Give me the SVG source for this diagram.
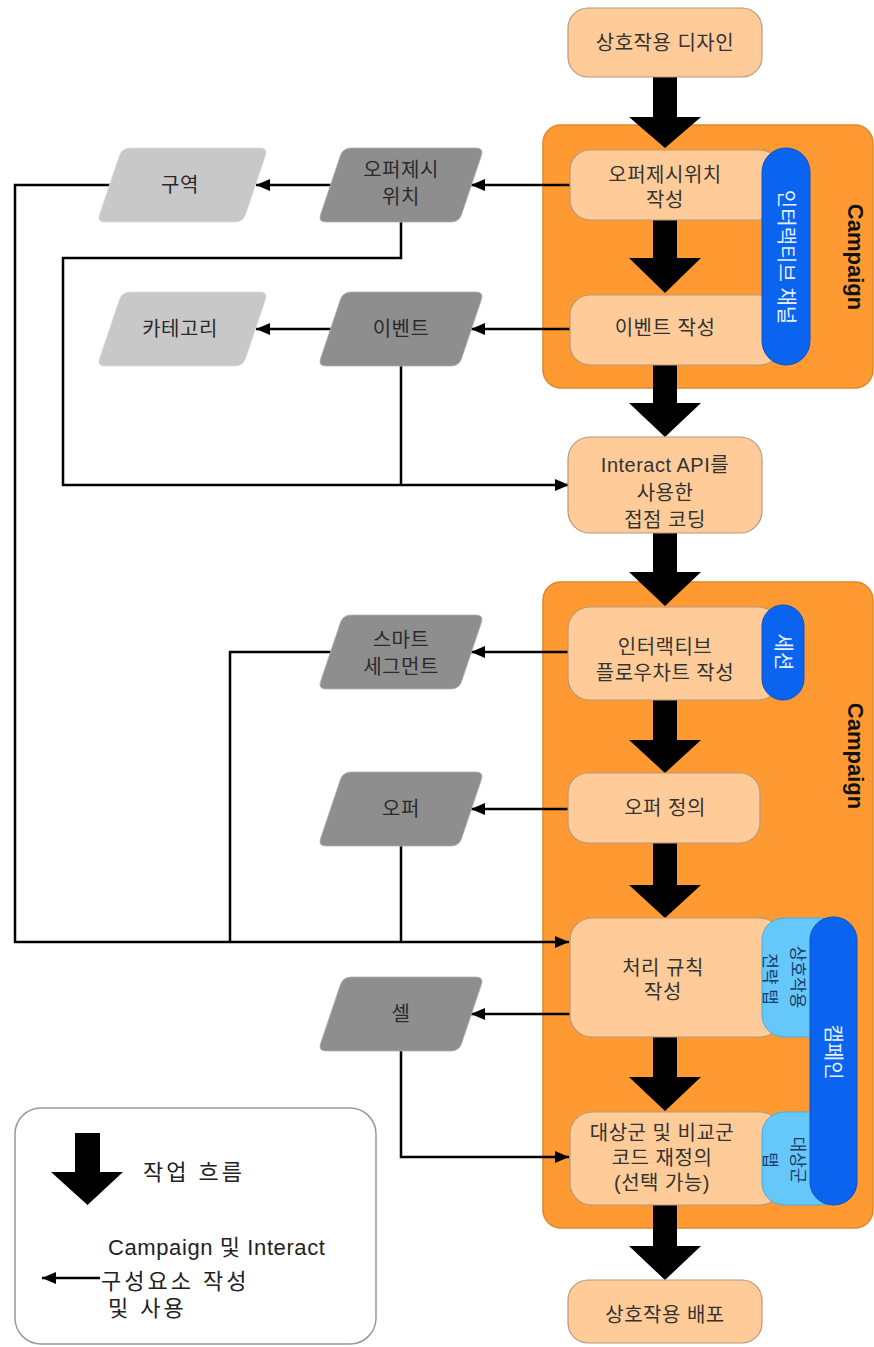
<svg xmlns="http://www.w3.org/2000/svg" width="874" height="1347" viewBox="0 0 874 1347">
<style>
  text { font-family: 'Liberation Sans', 'Noto Sans CJK KR', sans-serif; }
  .t { font-size: 20px; fill: #333; text-anchor: middle; letter-spacing: 0.5px; }
  .pt { font-size: 20px; fill: #2a2a2a; text-anchor: middle; letter-spacing: 0.5px; }
  .wt { font-size: 20px; fill: #e8f0ff; text-anchor: middle; }
  .lt { font-size: 17px; fill: #1a3a6a; text-anchor: middle; }
  .camp { font-size: 22px; font-weight: bold; fill: #111; text-anchor: middle; }
  .leg { font-size: 22px; fill: #222; }
  .legk { font-size: 22px; fill: #222; letter-spacing: 3px; }
  .grp { fill: #ff9a33; stroke: #e0862a; stroke-width: 1.5; }
  .node { fill: #ffcc99; stroke: #b8987a; stroke-width: 1.2; }
  .pill { fill: #0a64f0; stroke: #0a50c8; stroke-width: 1; }
  .tab { fill: #66c8fa; stroke: #4aa8e0; stroke-width: 1; }
  .dark { fill: #8e8e8e; stroke: #b0b0b0; stroke-width: 0.8; }
  .light { fill: #c8c8c8; stroke: #dcdcdc; stroke-width: 0.8; }
  .big { fill: #000; }
  .conn { fill: none; stroke: #000; stroke-width: 2.5; }
</style>
<defs>
  <marker id="ah" markerUnits="userSpaceOnUse" markerWidth="14" markerHeight="12" refX="14" refY="6" orient="auto">
    <path d="M0,0 L14,6 L0,12 Z" fill="#000"/>
  </marker>
  <path id="pgDark" d="M33,0 H158 Q166,0 163.4,7.6 L143.6,66.4 Q141,74 133,74 H8 Q0,74 2.6,66.4 L22.4,7.6 Q25,0 33,0 Z"/>
  <path id="pgLight" d="M33,0 H163 Q171,0 168.4,7.6 L148.6,66.4 Q146,74 138,74 H8 Q0,74 2.6,66.4 L22.4,7.6 Q25,0 33,0 Z"/>
</defs>
<rect width="874" height="1347" fill="#ffffff"/>

<!-- groups -->
<g id="campaign-group-1">
  <rect class="grp" x="543" y="125" width="330" height="263" rx="18"/>
  <text class="camp" transform="translate(848,257) rotate(90)">Campaign</text>
</g>
<g id="campaign-group-2">
  <rect class="grp" x="543" y="582" width="330" height="646" rx="18"/>
  <text class="camp" transform="translate(848,756) rotate(90)">Campaign</text>
</g>

<!-- workflow arrows -->
<g id="workflow-arrows">
  <polygon class="big" points="653,77 677,77 677,117 701,117 665,148 629,117 653,117"/>
  <polygon class="big" points="653,220 677,220 677,258 701,258 665,293 629,258 653,258"/>
  <polygon class="big" points="653,365 677,365 677,403 701,403 665,437 629,403 653,403"/>
  <polygon class="big" points="653,533 677,533 677,572 701,572 665,606 629,572 653,572"/>
  <polygon class="big" points="653,700 677,700 677,740 701,740 665,773 629,740 653,740"/>
  <polygon class="big" points="653,843 677,843 677,885 701,885 665,918 629,885 653,885"/>
  <polygon class="big" points="653,1037 677,1037 677,1077 701,1077 665,1111 629,1077 653,1077"/>
  <polygon class="big" points="653,1205 677,1205 677,1246 701,1246 665,1280 629,1246 653,1246"/>
</g>

<!-- connectors -->
<g id="connectors">
  <path class="conn" d="M570,185 H471" marker-end="url(#ah)"/>
  <path class="conn" d="M331,185 H256" marker-end="url(#ah)"/>
  <path class="conn" d="M570,329 H471" marker-end="url(#ah)"/>
  <path class="conn" d="M331,329 H256" marker-end="url(#ah)"/>
  <path class="conn" d="M570,652 H471" marker-end="url(#ah)"/>
  <path class="conn" d="M570,809 H471" marker-end="url(#ah)"/>
  <path class="conn" d="M570,1014 H471" marker-end="url(#ah)"/>
  <path class="conn" d="M110,185 H15 V942 H569" marker-end="url(#ah)"/>
  <path class="conn" d="M331,652 H230 V942"/>
  <path class="conn" d="M401,846 V942"/>
  <path class="conn" d="M401,222 V258 H63 V485 H569" marker-end="url(#ah)"/>
  <path class="conn" d="M401,366 V485"/>
  <path class="conn" d="M401,1051 V1157 H569" marker-end="url(#ah)"/>
</g>

<!-- process nodes -->
<g id="n-design">
  <rect class="node" x="568" y="8" width="194" height="69" rx="20"/>
  <text class="t" x="665" y="50">상호작용 디자인</text>
</g>
<g id="n-offer-location">
  <rect class="node" x="570" y="150" width="210" height="70" rx="20"/>
  <text class="t" x="665" y="182">오퍼제시위치</text>
  <text class="t" x="665" y="207">작성</text>
</g>
<g id="n-event">
  <rect class="node" x="570" y="295" width="210" height="70" rx="20"/>
  <text class="t" x="665" y="335">이벤트 작성</text>
</g>
<g id="pill-channel">
  <rect class="pill" x="762" y="148" width="48" height="217" rx="24"/>
  <text class="wt" transform="translate(779,257) rotate(90)">인터랙티브 채널</text>
</g>
<g id="n-api">
  <rect class="node" x="568" y="437" width="194" height="96" rx="22"/>
  <text class="t" x="665" y="472">Interact API를</text>
  <text class="t" x="665" y="500">사용한</text>
  <text class="t" x="665" y="527">접점 코딩</text>
</g>
<g id="n-flowchart">
  <rect class="node" x="568" y="607" width="212" height="93" rx="22"/>
  <text class="t" x="665" y="654">인터랙티브</text>
  <text class="t" x="665" y="680">플로우차트 작성</text>
</g>
<g id="pill-session">
  <rect class="pill" x="762" y="605" width="42" height="95" rx="21"/>
  <text class="wt" transform="translate(776,652) rotate(90)">세션</text>
</g>
<g id="n-offer-def">
  <rect class="node" x="568" y="773" width="192" height="70" rx="20"/>
  <text class="t" x="665" y="815">오퍼 정의</text>
</g>
<g id="n-rules">
  <rect class="node" x="570" y="918" width="212" height="119" rx="22"/>
  <text class="t" x="663" y="975">처리 규칙</text>
  <text class="t" x="663" y="999">작성</text>
</g>
<g id="tab-strategy">
  <rect class="tab" x="762" y="918" width="80" height="119" rx="22"/>
  <text class="lt" transform="translate(792,977) rotate(90)">상호작용</text>
  <text class="lt" transform="translate(764,979) rotate(90)">전략 탭</text>
</g>
<g id="n-control">
  <rect class="node" x="570" y="1112" width="212" height="93" rx="22"/>
  <text class="t" x="662" y="1140">대상군 및 비교군</text>
  <text class="t" x="662" y="1165">코드 재정의</text>
  <text class="t" x="662" y="1190">(선택 가능)</text>
</g>
<g id="tab-target">
  <rect class="tab" x="762" y="1112" width="80" height="93" rx="22"/>
  <text class="lt" transform="translate(792,1160) rotate(90)">대상군</text>
  <text class="lt" transform="translate(764,1160) rotate(90)">탭</text>
</g>
<g id="pill-campaign">
  <rect class="pill" x="810" y="917" width="47" height="288" rx="23"/>
  <text class="wt" transform="translate(826,1052) rotate(90)">캠페인</text>
</g>
<g id="n-deploy">
  <rect class="node" x="568" y="1280" width="194" height="63" rx="20"/>
  <text class="t" x="665" y="1322">상호작용 배포</text>
</g>

<!-- component nodes -->
<g id="p-zone">
  <use href="#pgLight" class="light" transform="translate(97,148)"/>
  <text class="pt" x="180" y="192">구역</text>
</g>
<g id="p-offer-location">
  <use href="#pgDark" class="dark" transform="translate(318,148)"/>
  <text class="pt" x="401" y="177">오퍼제시</text>
  <text class="pt" x="401" y="204">위치</text>
</g>
<g id="p-category">
  <use href="#pgLight" class="light" transform="translate(97,292)"/>
  <text class="pt" x="180" y="336">카테고리</text>
</g>
<g id="p-event">
  <use href="#pgDark" class="dark" transform="translate(318,292)"/>
  <text class="pt" x="401" y="336">이벤트</text>
</g>
<g id="p-smart">
  <use href="#pgDark" class="dark" transform="translate(318,615)"/>
  <text class="pt" x="401" y="647">스마트</text>
  <text class="pt" x="401" y="674">세그먼트</text>
</g>
<g id="p-offer">
  <use href="#pgDark" class="dark" transform="translate(318,772)"/>
  <text class="pt" x="401" y="816">오퍼</text>
</g>
<g id="p-cell">
  <use href="#pgDark" class="dark" transform="translate(318,977)"/>
  <text class="pt" x="401" y="1021">셀</text>
</g>

<!-- legend -->
<g id="legend">
  <rect x="15" y="1108" width="361" height="236" rx="26" fill="#fff" stroke="#999" stroke-width="1.5"/>
  <polygon class="big" points="75,1133 100,1133 100,1172 123,1172 87.5,1205 51,1172 75,1172"/>
  <text class="legk" x="143" y="1180">작업 흐름</text>
  <path class="conn" d="M100,1278 H42" marker-end="url(#ah)"/>
  <text class="leg" x="108" y="1255" letter-spacing="0.6">Campaign 및 Interact</text>
  <text class="legk" x="101" y="1289">구성요소 작성</text>
  <text class="legk" x="108" y="1316">및 사용</text>
</g>
</svg>
